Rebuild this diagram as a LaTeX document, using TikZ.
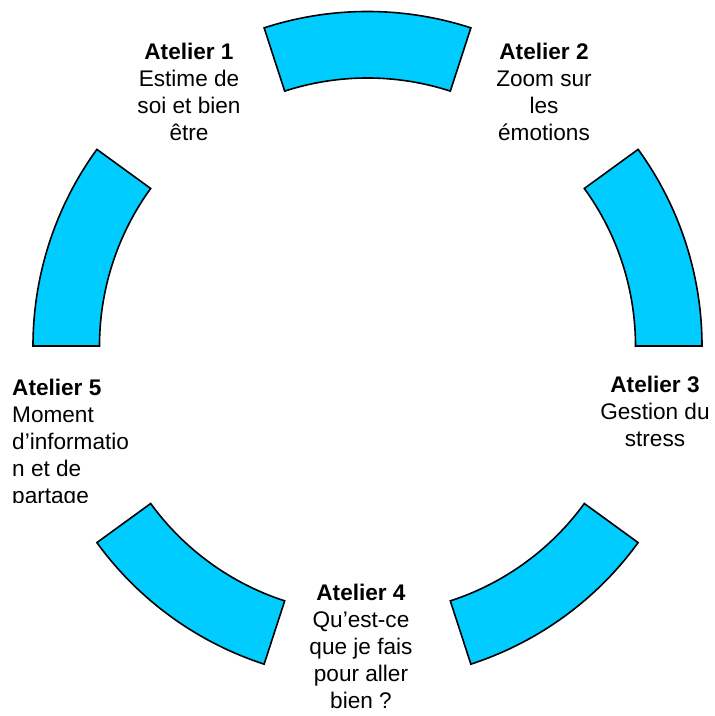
\documentclass[tikz,border=0pt]{standalone}
\usepackage{fontspec}
\setmainfont{Liberation Sans}
\definecolor{ringblue}{RGB}{0,204,255}

\begin{document}
\begin{tikzpicture}[x=1pt,y=1pt,
  seg/.style={fill=ringblue,draw=black,line width=1.6pt},
  lab/.style={inner sep=0pt,font=\fontsize{22.6}{27}\selectfont,align=center,anchor=north}]
  \useasboundingbox (0,0) rectangle (715,716);
  \coordinate (O) at (367.5,370);
  % five pieces of the ring, one every 72 degrees
  \foreach \a in {0,72,...,288}
    \draw[seg,shift={(O)}] (\a:334.5) arc[start angle=\a,end angle=\a+36,radius=334.5]
      -- ({\a+36}:268) arc[start angle=\a+36,end angle=\a,radius=268] -- cycle;
  \node[lab] (at1) at (189,673) {\textbf{Atelier 1}\\Estime de\\soi et bien\\être};
  \node[lab] (at2) at (544,673) {\textbf{Atelier 2}\\Zoom sur\\les\\émotions};
  \node[lab] (at3) at (655,340) {\textbf{Atelier 3}\\Gestion du\\stress};
  \node[lab] (at4) at (361,132) {\textbf{Atelier 4}\\Qu’est-ce\\que je fais\\pour aller\\bien ?};
  \begin{scope}
    \clip (0,213) rectangle (200,400);
    \node[lab,anchor=north west,align=left] (at5) at (12,337)
      {\textbf{Atelier 5}\\Moment\\d’informatio\\n et de\\partage};
  \end{scope}
\end{tikzpicture}
\end{document}
